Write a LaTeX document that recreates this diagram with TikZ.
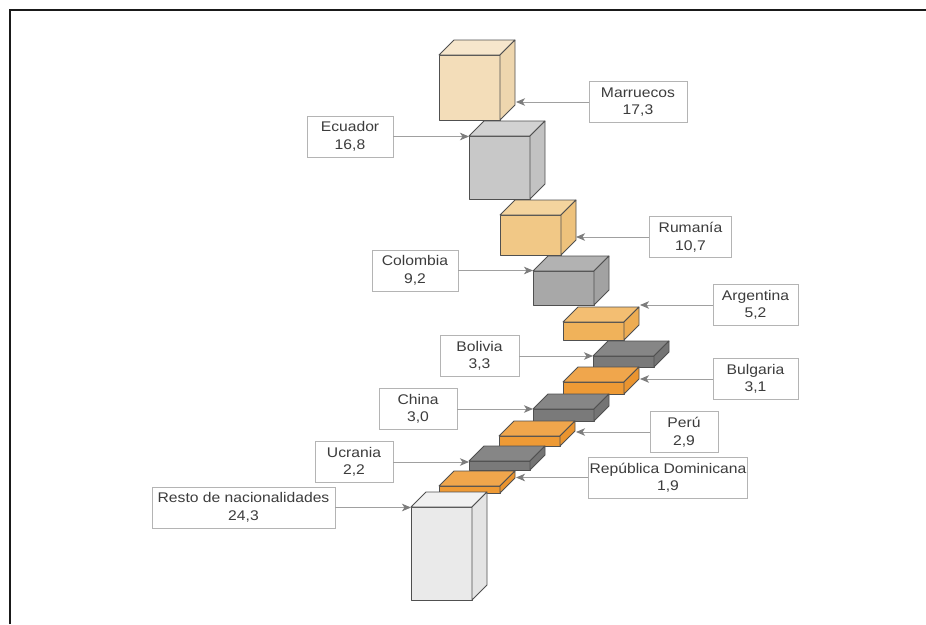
\documentclass[tikz,border=0pt]{standalone}
\usepackage{fontspec}
\newfontfamily\lblfont[FakeStretch=1.12]{Liberation Sans}
\usetikzlibrary{arrows.meta}
\definecolor{edgecol}{HTML}{505050}
\definecolor{lblborder}{HTML}{B4B4B4}
\definecolor{arrcol}{HTML}{A0A0A0}
\definecolor{tipcol}{HTML}{7C7C7C}
\definecolor{txtcol}{HTML}{3C3C3C}
\definecolor{framecol}{HTML}{1A1A1A}
% cube colours: front / top / side
\definecolor{tanF}{HTML}{F3DDB9}\definecolor{tanT}{HTML}{F6E6CC}\definecolor{tanS}{HTML}{EED6AE}
\definecolor{lorF}{HTML}{F1C886}\definecolor{lorT}{HTML}{F4D49E}\definecolor{lorS}{HTML}{EEC27C}
\definecolor{morF}{HTML}{F0B25A}\definecolor{morT}{HTML}{F3BE72}\definecolor{morS}{HTML}{EDAC52}
\definecolor{orF}{HTML}{EE9A35}\definecolor{orT}{HTML}{F0A64C}\definecolor{orS}{HTML}{EA942F}
\definecolor{lgF}{HTML}{C8C8C8}\definecolor{lgT}{HTML}{D2D2D2}\definecolor{lgS}{HTML}{C2C2C2}
\definecolor{mgF}{HTML}{A8A8A8}\definecolor{mgT}{HTML}{B2B2B2}\definecolor{mgS}{HTML}{A2A2A2}
\definecolor{dgF}{HTML}{7A7A7A}\definecolor{dgT}{HTML}{868686}\definecolor{dgS}{HTML}{747474}
\definecolor{wgF}{HTML}{EAEAEA}\definecolor{wgT}{HTML}{F1F1F1}\definecolor{wgS}{HTML}{E4E4E4}
% #1 x, #2 front top y, #3 height, #4 colour prefix
\newcommand\cubebox[4]{%
  \filldraw[fill=#4F,cubeedge] (#1,#2) rectangle ++(61,#3);
  \filldraw[fill=#4T,cubeedge] (#1,#2) -- ++(15,-15) -- ++(61,0) -- ++(-15,15) -- cycle;
  \filldraw[fill=#4S,cubeedge] ({#1+61},#2) -- ++(15,-15) -- ++(0,#3) -- ++(-15,15) -- cycle;
}
\tikzset{
  cubeedge/.style={draw=edgecol,line width=0.8pt,line join=round},
  lbl/.style={draw=lblborder,fill=white,line width=0.8pt,minimum height=41pt,
    inner sep=0pt,align=center,text=txtcol,
    font=\lblfont\fontsize{14}{17.5}\selectfont},
  arr/.style={draw=arrcol,line width=0.9pt,
    -{Stealth[length=9pt,width=7.5pt,inset=2.5pt,color=tipcol,fill=tipcol]}},
}
\begin{document}
\begin{tikzpicture}[x=1pt,y=-1pt]
\useasboundingbox (0,0) rectangle (926,624);
\fill[white] (0,0) rectangle (926,624);
\draw[framecol,line width=2pt] (10,624) -- (10,10) -- (926,10);
% cubes, top to bottom
\cubebox{439}{55}{65}{tan}
\cubebox{469}{136}{63}{lg}
\cubebox{500}{215}{40}{lor}
\cubebox{533}{271}{34}{mg}
\cubebox{563}{322}{18}{mor}
\cubebox{593}{356}{11}{dg}
\cubebox{563}{382}{12}{or}
\cubebox{533}{409}{12}{dg}
\cubebox{499}{436}{10}{or}
\cubebox{469}{461}{9}{dg}
\cubebox{439}{486}{7}{or}
\cubebox{411}{507}{93}{wg}
% arrow targets
\coordinate (tmar) at (516,102);
\coordinate (tecu) at (469,136.5);
\coordinate (trum) at (576,237);
\coordinate (tcol) at (533,270.5);
\coordinate (targ) at (640,305);
\coordinate (tbol) at (593,356);
\coordinate (tbul) at (640,379);
\coordinate (tchi) at (533,409);
\coordinate (tper) at (576,432);
\coordinate (tucr) at (469,462);
\coordinate (trep) at (516,477.5);
\coordinate (tres) at (411,507.5);
% labels
\node[lbl,minimum width=98pt] (mar) at (638,102) {Marruecos\\17,3};
\node[lbl,minimum width=86pt] (ecu) at (350,136.5) {Ecuador\\16,8};
\node[lbl,minimum width=82pt] (rum) at (690.5,237) {Rumanía\\10,7};
\node[lbl,minimum width=86pt] (col) at (415,270.5) {Colombia\\9,2};
\node[lbl,minimum width=85pt] (arg) at (755.5,305) {Argentina\\5,2};
\node[lbl,minimum width=79pt] (bol) at (479.5,356) {Bolivia\\3,3};
\node[lbl,minimum width=85pt] (bul) at (755.5,379) {Bulgaria\\3,1};
\node[lbl,minimum width=78pt] (chi) at (418,409) {China\\3,0};
\node[lbl,minimum width=68pt] (per) at (684,432) {Perú\\2,9};
\node[lbl,minimum width=78pt] (ucr) at (354,462) {Ucrania\\2,2};
\node[lbl,minimum width=159pt] (rep) at (668,477.5) {República Dominicana\\1,9};
\node[lbl,minimum width=183pt] (res) at (243.5,507.5) {Resto de nacionalidades\\24,3};
% connectors
\draw[arr] (mar.west) -- (tmar);
\draw[arr] (ecu.east) -- (tecu);
\draw[arr] (rum.west) -- (trum);
\draw[arr] (col.east) -- (tcol);
\draw[arr] (arg.west) -- (targ);
\draw[arr] (bol.east) -- (tbol);
\draw[arr] (bul.west) -- (tbul);
\draw[arr] (chi.east) -- (tchi);
\draw[arr] (per.west) -- (tper);
\draw[arr] (ucr.east) -- (tucr);
\draw[arr] (rep.west) -- (trep);
\draw[arr] (res.east) -- (tres);
\end{tikzpicture}
\end{document}
